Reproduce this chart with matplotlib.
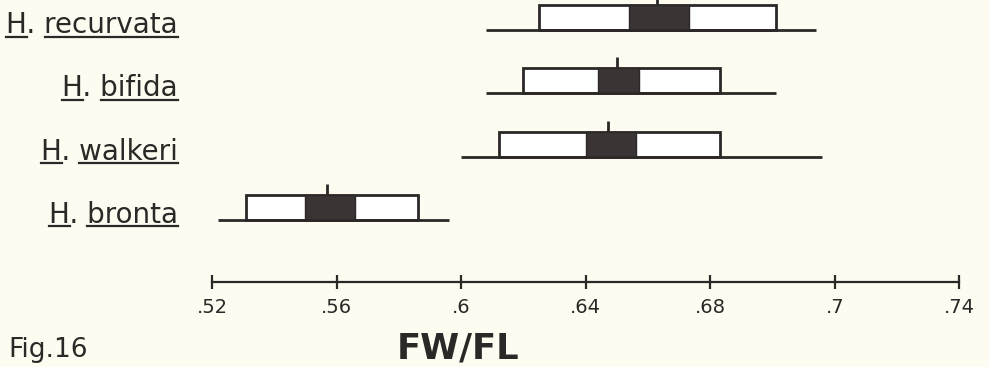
import matplotlib
matplotlib.use("Agg")
import matplotlib.pyplot as plt
from matplotlib.lines import Line2D
import matplotlib.transforms as mtransforms

# FW/FL ratio per species
species = ["recurvata", "bifida", "walkeri", "bronta"]
range_lo = [0.608, 0.608, 0.600, 0.522]
range_hi = [0.714, 0.701, 0.716, 0.596]
box_lo = [0.625, 0.620, 0.612, 0.531]
box_hi = [0.701, 0.683, 0.683, 0.586]
dark_lo = [0.654, 0.644, 0.640, 0.550]
dark_hi = [0.673, 0.657, 0.656, 0.566]
means = [0.663, 0.650, 0.647, 0.557]

tick_values = [0.52, 0.56, 0.60, 0.64, 0.68, 0.72, 0.76]
tick_labels = [".52", ".56", ".6", ".64", ".68", ".7", ".74"]

INK = "#2b2827"
PAPER = "#fefcf1"
W_PX, H_PX = 989, 367

plt.rcParams["font.family"] = ["DejaVu Sans"]

fig = plt.figure(figsize=(W_PX / 100, H_PX / 100), dpi=100, facecolor=PAPER)
ax = fig.add_axes([0, 0, 1, 1])
ax.set_facecolor(PAPER)

# pixel 212 -> .52, pixel 959.5 -> .76 ; row 0 at pixel 30, 63.33 px per row
px_per_x = (959.5 - 212) / 0.24
ax.set_xlim(0.52 - 212 / px_per_x, 0.52 + (W_PX - 212) / px_per_x)
px_per_row = 63.33
ax.set_ylim((H_PX - 30) / px_per_row, -30 / px_per_row)

box_h = 25 / px_per_row
mean_h = 11 / px_per_row
rows = list(range(len(species)))

for i in rows:
    ax.hlines(i, range_lo[i], range_hi[i], color=INK, lw=2.0, zorder=3)
    ax.barh(i, box_hi[i] - box_lo[i], left=box_lo[i], height=-box_h, align="edge",
            color="white", edgecolor=INK, lw=2.0, zorder=2)
    ax.barh(i, dark_hi[i] - dark_lo[i], left=dark_lo[i], height=-box_h, align="edge",
            color="#3a3534", edgecolor=INK, lw=1.0, zorder=2.5)
    ax.vlines(means[i], i - box_h, i - box_h - mean_h, color=INK, lw=2.0, zorder=3)

# scale bar along the bottom
for side in ["top", "right", "left"]:
    ax.spines[side].set_visible(False)
ax.spines["bottom"].set_position(("data", (281.7 - 30) / px_per_row))
ax.spines["bottom"].set_bounds(tick_values[0], tick_values[-1])
ax.spines["bottom"].set_color(INK)
ax.spines["bottom"].set_linewidth(1.6)
ax.set_yticks([])
ax.set_xticks(tick_values)
ax.set_xticklabels(tick_labels, fontsize=14, color=INK)
ax.tick_params(axis="x", direction="inout", length=10, width=1.6, color=INK, pad=7)

# species labels, right aligned, with underlined genus and epithet
fig.canvas.draw()
renderer = fig.canvas.get_renderer()
trans = mtransforms.blended_transform_factory(fig.transFigure, ax.transData)
label_x = 178 / W_PX
for i in rows:
    y = i + 3 / px_per_row
    t = fig.text(label_x, y, f"H. {species[i]}", transform=trans, ha="right",
                 va="baseline", fontsize=20, color=INK)
    bb = t.get_window_extent(renderer)
    tmp = fig.text(0, 0, species[i], fontsize=20)
    w_sp = tmp.get_window_extent(renderer).width
    tmp2 = fig.text(0, 0, "H", fontsize=20)
    w_h = tmp2.get_window_extent(renderer).width
    tmp.remove()
    tmp2.remove()
    y_line = H_PX - ((i * px_per_row + 30) + 6.5)
    for x0, x1 in [(bb.x0, bb.x0 + w_h), (bb.x1 - w_sp, bb.x1)]:
        fig.add_artist(Line2D([x0 / W_PX, x1 / W_PX], [y_line / H_PX, y_line / H_PX],
                              transform=fig.transFigure, color=INK, lw=1.6))

fig.text(458 / W_PX, (H_PX - 358) / H_PX, "FW/FL", ha="center", va="baseline",
         fontsize=25.5, fontweight="bold", color=INK)
fig.text(8 / W_PX, (H_PX - 357) / H_PX, "Fig.16", ha="left", va="baseline",
         fontsize=19, color=INK)

fig.savefig("out.png", dpi=100, facecolor=PAPER)
